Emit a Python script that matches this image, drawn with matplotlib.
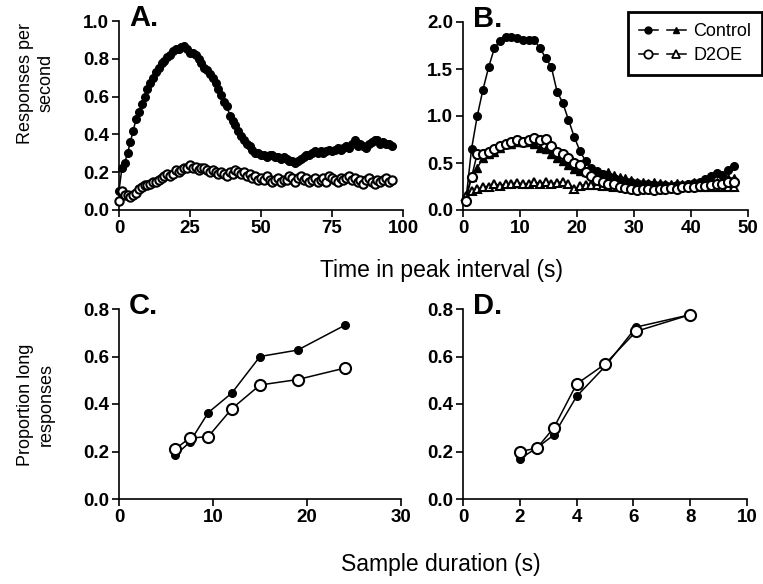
import numpy as np
import matplotlib
matplotlib.use("Agg")
import matplotlib.pyplot as plt
from matplotlib.lines import Line2D
from matplotlib.legend_handler import HandlerTuple
from matplotlib.ticker import FormatStrFormatter

plt.rcParams["font.family"] = ["Liberation Sans", "DejaVu Sans"]

# panel A: peak interval, long (s)
a_time = np.arange(0, 97)
a_ctrl = [0.10, 0.22, 0.25, 0.30, 0.36, 0.42, 0.48, 0.52, 0.56, 0.60,
          0.64, 0.67, 0.70, 0.73, 0.75, 0.78, 0.79, 0.81, 0.82, 0.84,
          0.85, 0.85, 0.86, 0.87, 0.85, 0.83, 0.83, 0.82, 0.80, 0.78,
          0.75, 0.74, 0.72, 0.70, 0.67, 0.64, 0.61, 0.57, 0.55, 0.50,
          0.47, 0.45, 0.42, 0.39, 0.37, 0.35, 0.34, 0.32, 0.30, 0.30,
          0.29, 0.29, 0.28, 0.29, 0.29, 0.28, 0.28, 0.27, 0.28, 0.27,
          0.26, 0.26, 0.25, 0.26, 0.27, 0.28, 0.29, 0.29, 0.30, 0.31,
          0.30, 0.31, 0.30, 0.31, 0.32, 0.31, 0.32, 0.33, 0.32, 0.33,
          0.34, 0.33, 0.35, 0.37, 0.34, 0.35, 0.34, 0.33, 0.35, 0.36,
          0.37, 0.37, 0.35, 0.36, 0.35, 0.35, 0.34]
a_d2oe = [0.05, 0.10, 0.08, 0.08, 0.07, 0.08, 0.09, 0.11, 0.12, 0.13,
          0.13, 0.14, 0.15, 0.15, 0.16, 0.17, 0.18, 0.19, 0.18, 0.19,
          0.21, 0.20, 0.21, 0.22, 0.22, 0.24, 0.22, 0.23, 0.21, 0.22,
          0.22, 0.21, 0.20, 0.21, 0.20, 0.19, 0.20, 0.19, 0.18, 0.20,
          0.19, 0.21, 0.20, 0.19, 0.20, 0.18, 0.19, 0.17, 0.18, 0.16,
          0.17, 0.16, 0.18, 0.16, 0.15, 0.16, 0.17, 0.15, 0.16, 0.16,
          0.18, 0.17, 0.15, 0.17, 0.18, 0.16, 0.17, 0.15, 0.16, 0.17,
          0.15, 0.16, 0.17, 0.15, 0.18, 0.17, 0.16, 0.15, 0.17, 0.16,
          0.17, 0.18, 0.16, 0.17, 0.15, 0.16, 0.14, 0.16, 0.17, 0.15,
          0.14, 0.16, 0.15, 0.16, 0.17, 0.15, 0.16]

# panel B: peak interval, short (s)
b_time = np.arange(0.5, 48, 1.0)
b_ctrl_circ = [0.10, 0.65, 1.00, 1.28, 1.52, 1.72, 1.80, 1.84, 1.84, 1.83,
               1.81, 1.81, 1.81, 1.72, 1.62, 1.52, 1.26, 1.14, 0.96, 0.78,
               0.63, 0.52, 0.45, 0.42, 0.38, 0.36, 0.34, 0.32, 0.30, 0.30,
               0.29, 0.28, 0.28, 0.27, 0.27, 0.27, 0.26, 0.27, 0.27, 0.28,
               0.29, 0.30, 0.33, 0.36, 0.39, 0.37, 0.43, 0.47]
b_ctrl_tri = [0.15, 0.35, 0.45, 0.55, 0.60, 0.62, 0.66, 0.70, 0.70, 0.72,
              0.72, 0.72, 0.70, 0.66, 0.65, 0.60, 0.55, 0.52, 0.48, 0.44,
              0.42, 0.40, 0.40, 0.38, 0.38, 0.40, 0.37, 0.35, 0.34, 0.32,
              0.30, 0.30, 0.29, 0.30, 0.29, 0.28, 0.28, 0.29, 0.28, 0.28,
              0.30, 0.30, 0.32, 0.32, 0.30, 0.32, 0.34, 0.34]
b_d2oe_circ = [0.10, 0.35, 0.60, 0.60, 0.62, 0.65, 0.68, 0.70, 0.72, 0.75,
               0.72, 0.74, 0.77, 0.74, 0.76, 0.68, 0.62, 0.60, 0.55, 0.50,
               0.48, 0.40, 0.36, 0.32, 0.30, 0.28, 0.28, 0.25, 0.23, 0.22,
               0.21, 0.22, 0.22, 0.21, 0.22, 0.22, 0.23, 0.22, 0.24, 0.25,
               0.25, 0.26, 0.26, 0.27, 0.28, 0.28, 0.30, 0.30]
b_d2oe_tri = [0.15, 0.20, 0.22, 0.25, 0.25, 0.28, 0.26, 0.28, 0.28, 0.29,
              0.28, 0.28, 0.30, 0.28, 0.30, 0.28, 0.29, 0.30, 0.28, 0.22,
              0.26, 0.27, 0.27, 0.27, 0.26, 0.26, 0.25, 0.25, 0.24, 0.25,
              0.24, 0.25, 0.24, 0.24, 0.24, 0.25, 0.24, 0.24, 0.25, 0.24,
              0.25, 0.24, 0.25, 0.25, 0.24, 0.25, 0.24, 0.24]

# panel C / D: proportion long vs sample duration
c_dur = [6, 7.5, 9.5, 12, 15, 19, 24]
c_ctrl = [0.185, 0.238, 0.364, 0.446, 0.600, 0.627, 0.731]
c_d2oe = [0.211, 0.256, 0.263, 0.380, 0.480, 0.503, 0.551]
d_dur = [2, 2.6, 3.2, 4, 5, 6.1, 8]
d_ctrl = [0.169, 0.215, 0.270, 0.432, 0.558, 0.724, 0.776]
d_d2oe = [0.200, 0.214, 0.300, 0.484, 0.568, 0.706, 0.776]

fig = plt.figure(figsize=(7.63, 5.84), dpi=100)
W, H = 763.0, 584.0
def box(l, r, t, b):
    return [l / W, 1 - b / H, (r - l) / W, (b - t) / H]

axA = fig.add_axes(box(119, 403, 21, 210))
axB = fig.add_axes(box(463, 748, 22, 210))
axC = fig.add_axes(box(119, 401, 309, 499))
axD = fig.add_axes(box(463, 747, 309, 499))

filled = dict(color="black", mfc="black", mec="black", lw=1.1, clip_on=False, zorder=3)
hollow = dict(color="black", mfc="white", mec="black", mew=1.5, lw=1.1, clip_on=False, zorder=4)

axA.plot(a_time, a_ctrl, "-o", ms=5.5, **filled)
axA.plot(a_time, a_d2oe, "-o", ms=6, **hollow)

axB.plot(b_time, b_ctrl_tri, "-^", ms=5.5, **filled)
axB.plot(b_time, b_d2oe_tri, "-^", ms=6, **hollow)
axB.plot(b_time, b_ctrl_circ, "-o", ms=5.5, **filled)
axB.plot(b_time, b_d2oe_circ, "-o", ms=6.5, **hollow)

axC.plot(c_dur, c_ctrl, "-o", ms=5.5, **filled)
axC.plot(c_dur, c_d2oe, "-o", ms=8, **hollow)
axD.plot(d_dur, d_ctrl, "-o", ms=5.5, **filled)
axD.plot(d_dur, d_d2oe, "-o", ms=8, **hollow)

axA.set_xlim(0, 100); axA.set_ylim(0, 1.0)
axA.set_xticks([0, 25, 50, 75, 100]); axA.set_yticks(np.arange(0, 1.01, 0.2))
axB.set_xlim(0, 50); axB.set_ylim(0, 2.0)
axB.set_xticks(range(0, 51, 10)); axB.set_yticks(np.arange(0, 2.01, 0.5))
axC.set_xlim(0, 30); axC.set_ylim(0, 0.8)
axC.set_xticks([0, 10, 20, 30]); axC.set_yticks(np.arange(0, 0.81, 0.2))
axD.set_xlim(0, 10); axD.set_ylim(0, 0.8)
axD.set_xticks(range(0, 11, 2)); axD.set_yticks(np.arange(0, 0.81, 0.2))

for ax, lab in zip([axA, axB, axC, axD], ["A.", "B.", "C.", "D."]):
    for s in ["top", "right"]:
        ax.spines[s].set_visible(False)
    for s in ["left", "bottom"]:
        ax.spines[s].set_linewidth(1.2)
    ax.tick_params(direction="out", length=5, width=1.2, labelsize=13.5, pad=2)
    for t in ax.get_xticklabels() + ax.get_yticklabels():
        t.set_fontweight("bold")
    ax.yaxis.set_major_formatter(FormatStrFormatter("%.1f"))
    ax.text(0.035, 1.09, lab, transform=ax.transAxes, fontsize=21, fontweight="bold",
            va="top", ha="left")

narrow = ["Liberation Sans Narrow", "Liberation Sans"]
fig.text(36 / W, 1 - 83 / H, "Responses per\nsecond", rotation=90, ha="center", va="center",
         fontsize=13, linespacing=1.3, family=narrow)
fig.text(36 / W, 1 - 405 / H, "Proportion long\nresponses", rotation=90, ha="center", va="center",
         fontsize=13, linespacing=1.3, family=narrow)
fig.text(441 / W, 1 - 271 / H, "Time in peak interval (s)", ha="center", va="center", fontsize=16.5)
fig.text(441 / W, 1 - 564 / H, "Sample duration (s)", ha="center", va="center", fontsize=16.5)

# legend: circle + triangle per group
hc = (Line2D([], [], marker="o", color="black", mfc="black", ms=5, lw=1.1),
      Line2D([], [], marker="^", color="black", mfc="black", ms=5, lw=1.1))
hd = (Line2D([], [], marker="o", color="black", mfc="white", mew=1.3, ms=6, lw=1.1),
      Line2D([], [], marker="^", color="black", mfc="white", mew=1.3, ms=6, lw=1.1))
leg = fig.legend([hc, hd], ["Control", "D2OE"], loc="upper right",
                 bbox_to_anchor=(762 / W, 1 - 12 / H), borderaxespad=0, fontsize=13,
                 handler_map={tuple: HandlerTuple(ndivide=None, pad=0.5)},
                 handlelength=2.6, handletextpad=0.4, borderpad=0.6, labelspacing=0.4,
                 fancybox=False, framealpha=1)
leg.get_frame().set_edgecolor("black")
leg.get_frame().set_linewidth(2)

fig.savefig("out.png", dpi=100)
